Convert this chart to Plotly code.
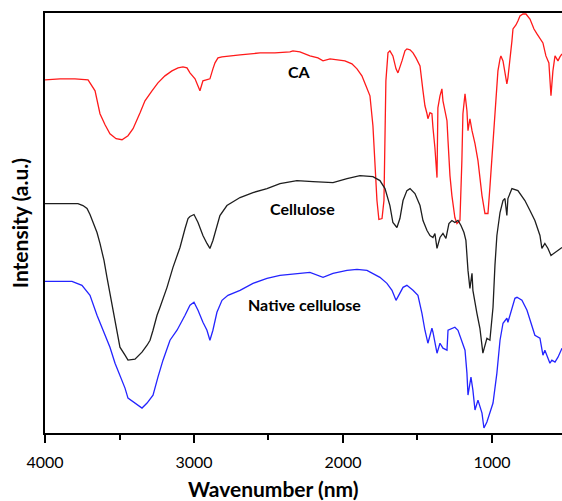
import plotly.graph_objects as go

# FTIR spectra: wavenumber (cm-1) vs. offset intensity (a.u.)
ca_wn = [4000, 3899, 3799, 3711, 3664, 3631, 3597, 3564, 3523, 3483, 3443, 3409, 3362, 3329,
         3282, 3242, 3195, 3148, 3107, 3074, 3047, 3027, 2993, 2973, 2960, 2940, 2913, 2893,
         2873, 2859, 2839, 2812, 2691, 2557, 2457, 2356, 2336, 2289, 2222, 2168, 2134, 2087,
         1987, 1940, 1906, 1873, 1846, 1819, 1799, 1785, 1772, 1759, 1738, 1725, 1712, 1698,
         1685, 1665, 1644, 1631, 1618, 1604, 1584, 1571, 1550, 1530, 1510, 1483, 1463, 1450,
         1436, 1430, 1416, 1403, 1396, 1383, 1369, 1363, 1349, 1336, 1329, 1316, 1302, 1295,
         1282, 1269, 1249, 1235, 1215, 1202, 1195, 1181, 1168, 1161, 1148, 1134, 1114, 1094,
         1081, 1067, 1047, 1027, 1014, 993, 973, 960, 946, 940, 926, 913, 900, 893, 879, 866,
         859, 839, 826, 812, 792, 772, 745, 718, 698, 678, 658, 638, 618, 604, 591, 577, 557,
         544, 530]
ca_int = [354, 355, 355, 354, 343, 320, 309, 300, 295, 294, 298, 305, 321, 333,
          343, 351, 358, 363, 366, 367, 366, 361, 355, 348, 343, 353, 354, 355,
          365, 371, 376, 377, 379, 381, 381, 382, 383, 382, 378, 376, 373, 375,
          373, 370, 365, 358, 348, 338, 308, 268, 233, 214, 215, 233, 353, 381,
          383, 378, 365, 361, 368, 373, 383, 385, 384, 381, 376, 368, 343, 328,
          320, 315, 321, 320, 306, 286, 256, 326, 338, 345, 333, 323, 313, 293,
          258, 238, 216, 210, 213, 273, 320, 340, 323, 303, 315, 303, 290, 273,
          255, 238, 220, 220, 246, 290, 338, 363, 375, 378, 373, 361, 350, 356, 373, 393,
          405, 409, 413, 418, 420, 420, 415, 405, 400, 395, 391, 378, 371, 338, 363, 378, 373,
          377, 380]

cel_wn = [4000, 3899, 3832, 3779, 3745, 3718, 3698, 3678, 3651, 3631, 3604, 3584, 3564, 3544,
          3517, 3497, 3463, 3443, 3396, 3349, 3315, 3295, 3275, 3248, 3228, 3181, 3141, 3094,
          3060, 3040, 3027, 3000, 2973, 2940, 2913, 2893, 2873, 2846, 2826, 2779, 2691, 2604,
          2510, 2423, 2309, 2201, 2067, 1973, 1886, 1799, 1752, 1718, 1685, 1665, 1638, 1618,
          1597, 1571, 1550, 1517, 1483, 1463, 1436, 1416, 1396, 1383, 1369, 1349, 1329, 1309,
          1289, 1269, 1249, 1228, 1208, 1188, 1175, 1161, 1148, 1134, 1128, 1101, 1081, 1061,
          1047, 1034, 1014, 993, 980, 967, 946, 926, 913, 900, 893, 866, 826, 779, 745, 712,
          678, 665, 645, 624, 604, 577, 557, 530]
cel_int = [230, 230, 230, 230, 228, 225, 219, 211, 201, 190, 173, 156, 140, 123,
           103, 86, 78, 73, 74, 81, 88, 93, 103, 118, 126, 146, 166, 186,
           205, 215, 217, 219, 211, 198, 190, 185, 193, 208, 218, 228, 236, 241,
           245, 250, 253, 252, 251, 255, 258, 257, 253, 245, 228, 211, 206, 215,
           233, 243, 245, 240, 228, 213, 203, 198, 196, 200, 185, 196, 200, 195,
           210, 213, 211, 213, 208, 201, 193, 163, 145, 160, 143, 120, 105, 80,
           88, 95, 93, 126, 168, 198, 221, 233, 235, 218, 235, 245, 243, 233, 223, 213,
           198, 185, 190, 185, 178, 181, 183, 186]

nat_wn = [4000, 3899, 3819, 3752, 3698, 3651, 3611, 3591, 3564, 3530, 3497, 3463, 3443, 3396,
          3349, 3315, 3275, 3242, 3208, 3161, 3114, 3060, 3027, 3000, 2973, 2940, 2913, 2893,
          2873, 2846, 2812, 2772, 2691, 2604, 2510, 2423, 2289, 2222, 2134, 2067, 1973, 1906,
          1839, 1752, 1705, 1671, 1644, 1618, 1597, 1571, 1530, 1497, 1470, 1450, 1430, 1403,
          1396, 1369, 1349, 1329, 1302, 1295, 1269, 1249, 1228, 1202, 1181, 1168, 1161, 1141,
          1128, 1114, 1094, 1067, 1054, 1034, 1014, 993, 967, 946, 926, 900, 893, 866, 846,
          832, 799, 765, 732, 712, 678, 665, 658, 645, 624, 611, 598, 577, 557, 544, 530]
nat_int = [152, 152, 152, 148, 138, 118, 103, 96, 86, 70, 58, 45, 35, 30,
           25, 30, 38, 56, 73, 93, 103, 118, 128, 131, 123, 111, 103, 93,
           103, 121, 133, 138, 143, 150, 155, 158, 160, 161, 156, 160, 163, 164,
           163, 156, 150, 143, 133, 140, 146, 148, 143, 138, 120, 103, 90, 105,
           101, 80, 90, 85, 83, 103, 105, 106, 103, 93, 83, 60, 38, 56,
           43, 23, 33, 20, 5, 11, 20, 30, 60, 93, 110, 115, 111, 126, 135,
           136, 133, 123, 108, 98, 95, 85, 78, 83, 76, 70, 73, 71, 76, 81, 85]

labels = ["CA", "Cellulose", "Native cellulose"]
label_wn = [2289, 2275, 2255]
label_int = [362, 225, 129]

x_ticks = [4000, 3000, 2000, 1000]
x_minor = [3500, 2500, 1500]

fig = go.Figure()
series = [(ca_wn, ca_int, "#ff1a1a"), (cel_wn, cel_int, "#1e1e1e"), (nat_wn, nat_int, "#2424ff")]
for name, (xs, ys, col) in zip(labels, series):
    fig.add_trace(go.Scatter(x=xs, y=ys, mode="lines", name=name,
                             line=dict(color=col, width=1.3), showlegend=False))

for text, xv, yv in zip(labels, label_wn, label_int):
    fig.add_annotation(x=xv, y=yv, text=f"<b>{text}</b>", showarrow=False,
                       font=dict(family="Lato", size=16, color="black"),
                       xanchor="center", yanchor="middle")

fig.add_annotation(x=0.442, y=-0.133, xref="paper", yref="paper",
                   text="<b>Wavenumber (nm)</b>", showarrow=False,
                   font=dict(family="Lato", size=21, color="black"),
                   xanchor="center", yanchor="middle", borderpad=0)
fig.add_annotation(x=-0.05, y=0.5, xref="paper", yref="paper",
                   text="<b>Intensity (a.u.)</b>", showarrow=False, textangle=-90,
                   font=dict(family="Lato", size=21, color="black"),
                   xanchor="center", yanchor="middle")

fig.update_layout(
    width=562, height=501,
    margin=dict(l=45, r=0, t=13, b=68),
    paper_bgcolor="white", plot_bgcolor="white",
    font=dict(family="Lato", size=16, color="black"),
    xaxis=dict(range=[4000, 530], showgrid=False, zeroline=False,
               showline=True, linecolor="black", linewidth=2, mirror=True,
               tickmode="array", tickvals=x_ticks, ticktext=[str(v) for v in x_ticks],
               ticks="outside", ticklen=8, tickwidth=2, tickcolor="black",
               ticklabelstandoff=6,
               minor=dict(tickmode="array", tickvals=x_minor, ticks="outside",
                          ticklen=5, tickwidth=2, tickcolor="black", showgrid=False)),
    yaxis=dict(range=[0, 421], showgrid=False, zeroline=False,
               showline=True, linecolor="black", linewidth=2, mirror=False,
               showticklabels=False, ticks=""),
)

fig.write_html("out.html")
